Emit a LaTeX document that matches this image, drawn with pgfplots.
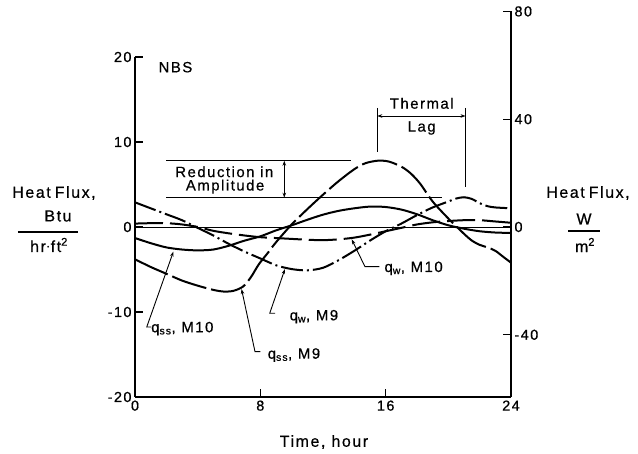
\documentclass[border=0pt]{standalone}
\usepackage{pgfplots}
\pgfplotsset{compat=1.18}
\usepackage{fontspec}
\setmainfont{Liberation Sans}[LetterSpace=10,FakeBold=0.6]
\usetikzlibrary{arrows.meta}

\pgfplotstableread{
x y
0 -3.8
1 -4.7
2 -5.5
3 -6.3
4 -6.9
5 -7.4
5.7 -7.6
6.3 -7.5
6.9 -7.0
7.4 -5.9
7.9 -4.4
8.5 -3.0
9 -1.8
10 0.3
11 2.1
12 3.8
13 5.4
14 6.8
14.7 7.5
15.5 7.8
16.2 7.7
17 7.1
17.6 6.3
18.2 5.1
19 3.0
20 1.0
21 -0.8
21.5 -1.6
22 -2.1
22.5 -2.4
23 -2.8
23.5 -3.5
24 -4.2
}\qssMnine

\pgfplotstableread{
x y
0 2.9
1 2.2
2 1.5
3 0.8
4 -0.1
5 -1.0
6 -2.0
7 -2.9
8 -3.7
9 -4.5
10 -4.95
11 -5.1
12 -4.8
13 -3.9
14 -2.8
15 -1.6
16 -0.5
17 0.4
18 1.4
19 2.3
20 3.0
20.5 3.35
21 3.5
21.5 3.3
22 2.8
22.5 2.45
23 2.3
24 2.2
}\qwMnine

\pgfplotstableread{
x y
0 -1.3
1 -1.9
2 -2.4
3 -2.65
4 -2.75
5 -2.65
6 -2.2
7 -1.6
8 -1.1
9 -0.4
10 0.2
11 0.85
12 1.45
13 1.9
14 2.2
15 2.4
16 2.35
17 2.05
18 1.5
19 0.8
20 0.2
21 -0.2
22 -0.5
23 -0.65
24 -0.7
}\qssMten

\pgfplotstableread{
x y
0 0.4
1 0.45
2 0.45
3 0.3
4 0.0
5 -0.45
6 -0.75
7 -1.0
8 -1.2
9 -1.3
10 -1.4
11 -1.5
12 -1.55
13 -1.45
14 -1.25
15 -0.9
16 -0.5
17 -0.1
18 0.3
19 0.55
20 0.7
21 0.8
22 0.8
23 0.65
24 0.5
}\qwMten

\begin{document}
\begin{tikzpicture}[font=\fontsize{15}{18}\selectfont,
  arr/.style={-{Stealth[length=5bp,width=3.5bp]}}]
\useasboundingbox (-135bp,-57bp) rectangle (503bp,397bp);
\begin{axis}[
  at={(0,0)}, anchor=south west,
  scale only axis, width=376bp, height=340bp,
  xmin=0, xmax=24, ymin=-20, ymax=20,
  axis x line*=bottom, axis y line*=left,
  xtick={0,8,16,24}, xticklabels={0,8,16,24},
  ytick={-20,-10,0,10,20}, yticklabels={-20,-10,0,10,20},
  major tick length=8bp,
  tick style={line width=1.1bp, black},
  axis line style={line width=1.8bp},
  tick label style={font=\fontsize{14.5}{16}\selectfont},
  clip=false,
]
\addplot[black, line width=2bp, smooth, dash pattern=on 36bp off 5bp] table[x=x,y=y] {\qssMnine};
\addplot[black, line width=2bp, smooth, dash pattern=on 22bp off 4bp on 2bp off 4bp] table[x=x,y=y] {\qwMnine};
\addplot[black, line width=2bp, smooth] table[x=x,y=y] {\qssMten};
\addplot[black, line width=2bp, smooth, dash pattern=on 28bp off 7bp] table[x=x,y=y] {\qwMten};

\draw[line width=0.9bp] (axis cs:0,0) -- (axis cs:24,0);
\draw[line width=0.9bp] (axis cs:2.0,7.8) -- (axis cs:13.8,7.8);
\draw[line width=0.9bp] (axis cs:2.0,3.45) -- (axis cs:19.6,3.45);
\draw[line width=0.9bp, {Stealth[length=5bp,width=3.5bp]}-{Stealth[length=5bp,width=3.5bp]}] (axis cs:9.53,7.8) -- (axis cs:9.53,3.45);
\node at (axis cs:5.7,6.5) {Reduction in};
\node at (axis cs:5.75,4.75) {Amplitude};

\draw[line width=0.9bp] (axis cs:15.46,14.0) -- (axis cs:15.46,8.8);
\draw[line width=0.9bp] (axis cs:21.1,14.0) -- (axis cs:21.1,4.7);
\draw[line width=0.9bp, {Stealth[length=5bp,width=3.5bp]}-{Stealth[length=5bp,width=3.5bp]}] (axis cs:15.46,13.06) -- (axis cs:21.1,13.06);
\node at (axis cs:18.3,14.55) {Thermal};
\node at (axis cs:18.3,11.65) {Lag};

\node[anchor=west] at (axis cs:1.28,18.8) {NBS};

% leaders
\draw[line width=0.9bp, arr] (axis cs:1.05,-11.76) -- (axis cs:0.75,-11.76) -- (axis cs:2.45,-2.9);
\node[anchor=west, inner sep=1bp] at (axis cs:0.96,-11.95) {q\textsubscript{ss}, M10};

\draw[line width=0.9bp, arr] (axis cs:8.95,-10.15) -- (axis cs:8.6,-10.15) -- (axis cs:9.57,-4.95);
\node[anchor=west, inner sep=1bp] at (axis cs:9.8,-10.55) {q\textsubscript{w}, M9};

\draw[line width=0.9bp, arr] (axis cs:8.0,-14.67) -- (axis cs:7.66,-14.67) -- (axis cs:6.8,-7.3);
\node[anchor=west, inner sep=1bp] at (axis cs:8.4,-15.06) {q\textsubscript{ss}, M9};

\draw[line width=0.9bp, arr] (axis cs:15.6,-4.67) -- (axis cs:14.68,-4.67) -- (axis cs:13.83,-1.45);
\node[anchor=west, inner sep=1bp] at (axis cs:15.85,-4.86) {q\textsubscript{w}, M10};
\end{axis}

\begin{axis}[
  at={(0,0)}, anchor=south west,
  scale only axis, width=376bp, height=385.6bp,
  xmin=0, xmax=24, ymin=-63.092, ymax=80,
  axis x line=none, axis y line*=right,
  ytick={-40,0,40,80}, yticklabels={-40,0,40,80},
  major tick length=8bp,
  tick style={line width=1.1bp, black},
  axis line style={line width=1.8bp},
  tick label style={font=\fontsize{14.5}{16}\selectfont},
]
\end{axis}

\begin{scope}[font=\fontsize{16}{19}\selectfont]
\node at (-81bp,204bp) {Heat\hspace{4bp}Flux,};
\node at (-77bp,181bp) {Btu};
\draw[line width=1.1bp] (-117bp,165bp) -- (-57bp,165bp);
\node at (-86bp,152bp) {hr$\cdot$ft\textsuperscript{2}};

\node at (453bp,204bp) {Heat\hspace{4bp}Flux,};
\node at (449bp,178bp) {W};
\draw[line width=1.1bp] (433bp,166bp) -- (465bp,166bp);
\node at (450bp,152bp) {m\textsuperscript{2}};

\node at (189bp,-45bp) {Time, hour};
\end{scope}
\end{tikzpicture}
\end{document}
